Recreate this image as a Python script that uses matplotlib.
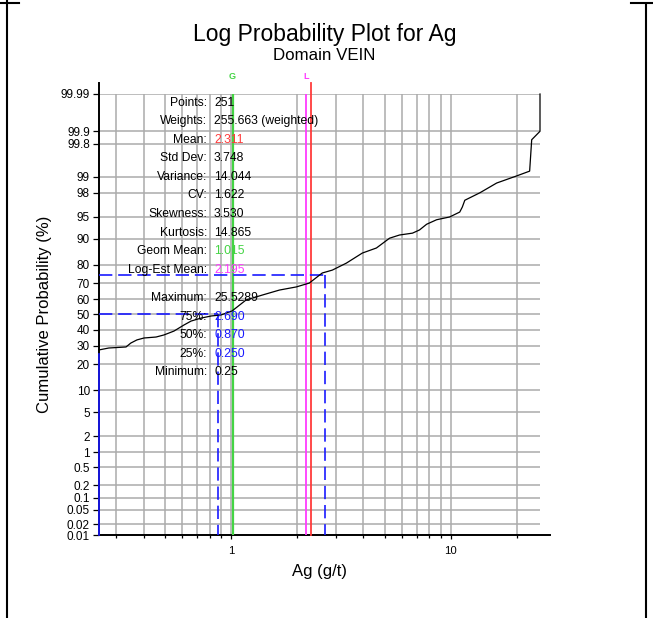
from statistics import NormalDist

import matplotlib
matplotlib.use('Agg')
import matplotlib.pyplot as plt
import numpy as np
from matplotlib.lines import Line2D
from matplotlib.ticker import FixedLocator, NullFormatter

plt.rcParams['font.family'] = ['Liberation Sans', 'DejaVu Sans']

W, H = 653, 618

# cumulative curve: grade (g/t) and cumulative probability (%)
curve_x = [0.25, 0.277, 0.332, 0.349, 0.372, 0.401, 0.455, 0.494, 0.549, 0.610,
           0.657, 0.730, 0.811, 0.900, 1.01, 1.17, 1.39, 1.66, 1.98, 2.27,
           2.60, 2.89, 3.35, 3.96, 4.59, 5.27, 5.85, 6.70, 7.21, 7.77,
           8.63, 9.89, 11.0, 11.3, 11.6, 13.6, 16.2, 20.0, 22.9, 23.4,
           25.5289, 25.5289]
curve_p = [27.5, 28.6, 29.2, 31.5, 33.4, 34.6, 35.2, 36.5, 39.0, 43.0,
           45.6, 47.6, 49.0, 49.7, 52.4, 59.7, 62.9, 66.0, 67.9, 70.2,
           75.8, 77.3, 80.7, 85.0, 86.9, 90.1, 91.0, 91.5, 92.3, 93.6,
           94.5, 95.0, 95.8, 96.5, 97.3, 98.0, 98.67, 99.03, 99.22, 99.84,
           99.90, 99.99]

x_min, x_max = 0.25, 25.5289
mean, geom_mean, log_est_mean = 2.311, 1.015, 2.195
q_pct = [25, 50, 75]
q_val = [0.25, 0.87, 2.69]

stat_labels = ['Points:', 'Weights:', 'Mean:', 'Std Dev:', 'Variance:', 'CV:',
               'Skewness:', 'Kurtosis:', 'Geom Mean:', 'Log-Est Mean:',
               'Maximum:', '75%:', '50%:', '25%:', 'Minimum:']
stat_values = ['251', '255.663 (weighted)', '2.311', '3.748', '14.044', '1.622',
               '3.530', '14.865', '1.015', '2.195',
               '25.5289', '2.690', '0.870', '0.250', '0.25']

prob_ticks = [0.01, 0.02, 0.05, 0.1, 0.2, 0.5, 1, 2, 5, 10, 20, 30, 40, 50,
              60, 70, 80, 90, 95, 98, 99, 99.8, 99.9, 99.99]

RED, GREEN, MAGENTA, BLUE = '#ff3b3b', '#44d444', '#ff3cff', '#1a1aff'
value_colors = {'Mean:': RED, 'Geom Mean:': GREEN, 'Log-Est Mean:': MAGENTA,
                '75%:': BLUE, '50%:': BLUE, '25%:': BLUE}

_nd = NormalDist()
_ppf = np.vectorize(_nd.inv_cdf, otypes=[float])
_cdf = np.vectorize(_nd.cdf, otypes=[float])


def prob_forward(p):
    p = np.clip(np.asarray(p, dtype=float) / 100.0, 1e-9, 1 - 1e-9)
    return _ppf(p)


def prob_inverse(z):
    return _cdf(np.asarray(z, dtype=float)) * 100.0


def px(x, y):
    return x / W, 1 - y / H


fig = plt.figure(figsize=(W / 100, H / 100), dpi=100)
ax = fig.add_axes([99 / W, 1 - 535 / H, 441 / W, 441 / H])

ax.set_xscale('log')
ax.set_yscale('function', functions=(prob_forward, prob_inverse))
ax.set_xlim(x_min, x_max)
ax.set_ylim(prob_ticks[0], prob_ticks[-1])

ax.yaxis.set_major_locator(FixedLocator(prob_ticks))
ax.set_yticklabels(['%g' % t for t in prob_ticks])
ax.yaxis.set_minor_locator(FixedLocator([]))

ax.set_xticks([1, 10])
ax.set_xticklabels(['1', '10'])
ax.xaxis.set_minor_formatter(NullFormatter())

ax.grid(which='both', color='#ababab', linewidth=1.1, zorder=0)
ax.set_axisbelow(True)

for s in ax.spines.values():
    s.set_visible(False)
ax.plot([0, 0], [0, 1.025], transform=ax.transAxes, color='black', lw=1.4, clip_on=False, zorder=1)
ax.plot([0, 1.023], [0, 0], transform=ax.transAxes, color='black', lw=1.4, clip_on=False, zorder=1)

ax.tick_params(axis='y', which='major', length=4.5, width=0.9, pad=2, labelsize=8.5)
ax.tick_params(axis='x', which='major', length=3, width=0.9, pad=5, labelsize=8.2)
ax.tick_params(axis='x', which='minor', length=2.5, width=0.9)

# quantile guide lines
for pct, val in zip(q_pct, q_val):
    ax.plot([x_min, val], [pct, pct], color=BLUE, lw=1.2, dashes=(8, 3.5), clip_on=False, zorder=3)
    ax.plot([val, val], [pct, prob_ticks[0]], color=BLUE, lw=1.2,
            dashes=(8, 3.5) if val > x_min else (None, None), clip_on=False, zorder=3)

ax.axvline(geom_mean, color=GREEN, lw=1.6, zorder=2)
ax.axvline(log_est_mean, color=MAGENTA, lw=1.3, zorder=2)
ax.axvline(mean, color=RED, lw=1.3, ymax=1.025, clip_on=False, zorder=2)
ax.text(geom_mean, 1.04, 'G', color=GREEN, fontsize=6.5, fontweight='bold',
        ha='center', va='center', transform=ax.get_xaxis_transform())
ax.text(log_est_mean, 1.04, 'L', color=MAGENTA, fontsize=6.5, fontweight='bold',
        ha='center', va='center', transform=ax.get_xaxis_transform())

ax.plot(curve_x, curve_p, color='black', lw=0.9, zorder=4, clip_on=False)

# statistics block
for i, (lab, val) in enumerate(zip(stat_labels, stat_values)):
    ypx = 102.5 + 18.6 * i + (9.4 if i >= 10 else 0)
    fig.text(*px(207, ypx), lab, ha='right', va='center', fontsize=8.7, color='black', zorder=5)
    fig.text(*px(214, ypx), val, ha='left', va='center', fontsize=8.7,
             color=value_colors.get(lab, 'black'), zorder=5)

ax.set_xlabel('Ag (g/t)', fontsize=12, labelpad=6)
ax.set_ylabel('Cumulative Probability (%)', fontsize=12, labelpad=6)

fig.text(*px(325, 34), 'Log Probability Plot for Ag', ha='center', va='center', fontsize=16.5)
fig.text(*px(324, 56), 'Domain VEIN', ha='center', va='center', fontsize=12.2)

# outer frame fragments
for xs, ys in [([7, 7], [0, H]), ([0, 19], [3, 3]), ([631, W], [3, 3]), ([646, 646], [4, H])]:
    fig.add_artist(Line2D([x / W for x in xs], [1 - y / H for y in ys], color='black', lw=1.5))

fig.savefig('out.png', dpi=100)
